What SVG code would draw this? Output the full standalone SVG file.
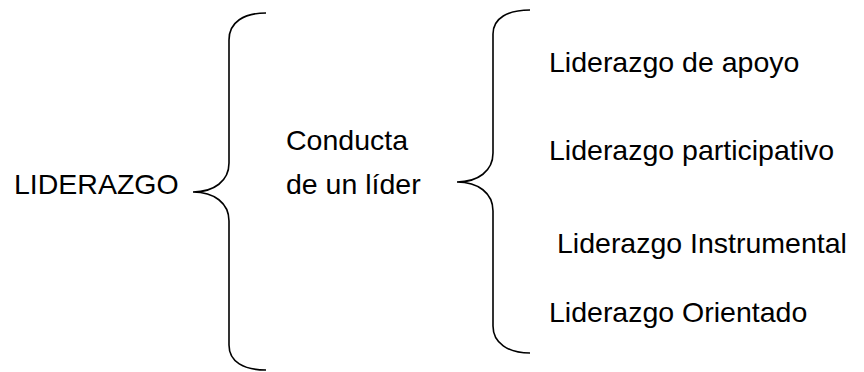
<svg xmlns="http://www.w3.org/2000/svg" width="864" height="372" viewBox="0 0 864 372">
<style>
text{font-family:"Liberation Sans",Arial,sans-serif;font-size:28.5px;fill:#000}
.brace{fill:none;stroke:#000;stroke-width:1.6}
</style>
<rect width="864" height="372" fill="#fff"/>
<g id="connectors">
<path class="brace" d="M266,13 C244,13 229,22 229,40 L229,163 C229,181 214,192 193,192 C214,192 229,203 229,221 L229,345 C229,362 244,370 266,370"/>
<path class="brace" d="M530,10 C508,10 493,18 493,34 L493,153 C493,171 478,182 457,182 C478,182 493,193 493,211 L493,326 C493,343 508,353 530,353"/>
</g>
<g id="n-liderazgo"><text x="14" y="194">LIDERAZGO</text></g>
<g id="n-conducta"><text x="286" y="150">Conducta</text><text x="286" y="194">de un líder</text></g>
<g id="n-apoyo"><text x="549" y="72">Liderazgo de apoyo</text></g>
<g id="n-participativo"><text x="549" y="160">Liderazgo participativo</text></g>
<g id="n-instrumental"><text x="557" y="253">Liderazgo Instrumental</text></g>
<g id="n-orientado"><text x="549" y="322">Liderazgo Orientado</text></g>
</svg>
